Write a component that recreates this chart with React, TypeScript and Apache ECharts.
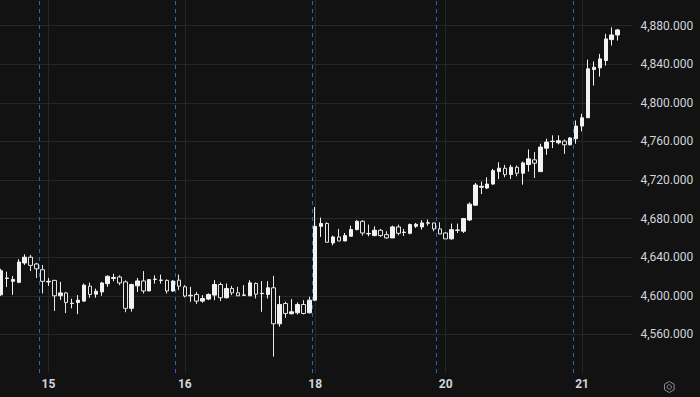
import React, { useEffect, useRef } from "react";
import * as echarts from "echarts";

const opens = [
  4601, 4618, 4615, 4614, 4634, 4640, 4633, 4627, 4614.4, 4616,
  4600, 4603, 4592, 4593, 4594.5, 4610, 4601.7, 4604, 4612.6, 4618,
  4619.5, 4614.4, 4587, 4610.3, 4615.4, 4605, 4617, 4616, 4616, 4605,
  4616.2, 4609.3, 4600, 4601.4, 4594.5, 4596.6, 4600.7, 4611.7, 4598, 4607.6,
  4603.1, 4600.5, 4600, 4612.8, 4602.2, 4601.4, 4608.3, 4571, 4592, 4581.4,
  4582.4, 4591, 4582.4, 4595.5, 4672, 4675, 4654.8, 4661, 4656.8, 4661.7,
  4668.6, 4677.2, 4664.2, 4662.4, 4667.9, 4663.4, 4660, 4671.4, 4665.6, 4664.8,
  4672.1, 4671.4, 4675.3, 4675.5, 4669.3, 4665.1, 4659, 4667.8, 4666.9, 4678.6,
  4693.9, 4712.5, 4711.7, 4715.8, 4728.7, 4732.2, 4725.6, 4733.2, 4727, 4736,
  4740.9, 4728.7, 4753, 4759.8, 4758.6, 4760.3, 4756.5, 4762.8, 4775.9, 4784.5,
  4834.5, 4836.2, 4843.8, 4865.5, 4870.3,
];
const closes = [
  4626, 4618.5, 4617, 4635, 4640, 4631.5, 4628, 4615, 4615, 4600,
  4603, 4593, 4592.3, 4595.5, 4611, 4601.4, 4604.8, 4613.3, 4620.2, 4619,
  4613.3, 4587, 4611.6, 4615.4, 4605, 4616.8, 4617.3, 4616.3, 4605, 4615.3,
  4610, 4599.7, 4600.5, 4594.5, 4597.2, 4601.4, 4611.7, 4598, 4607.6, 4603.1,
  4600, 4600.9, 4613.4, 4601.7, 4602.6, 4608.3, 4571, 4591, 4581.7, 4583.4,
  4591, 4581.7, 4595.5, 4672, 4675, 4655.5, 4661, 4656.8, 4662.4, 4668.6,
  4677.2, 4665.1, 4664.6, 4667.9, 4662.4, 4660, 4671.4, 4664.8, 4666, 4673.8,
  4674.1, 4675.5, 4675.7, 4669.3, 4664.1, 4659, 4668.6, 4668.2, 4680, 4695,
  4714.8, 4713.5, 4715.8, 4729.7, 4732.2, 4725.6, 4733.2, 4727, 4737.7, 4741.9,
  4737.4, 4754.1, 4759.3, 4760.2, 4760.7, 4756.5, 4763.5, 4775.9, 4784.5, 4835.2,
  4836.9, 4845.5, 4866.2, 4870.3, 4875.5,
];
const lows = [
  4600, 4609, 4601, 4613, 4632, 4625.6, 4618.5, 4602.4, 4610.3, 4584.3,
  4595.6, 4582, 4587, 4581, 4593.6, 4598, 4598, 4600, 4609.2, 4615,
  4611, 4583, 4583.6, 4604, 4602.4, 4605, 4612.6, 4612.6, 4602.4, 4604,
  4605.9, 4598.3, 4593.8, 4591.4, 4592.8, 4595.5, 4595.5, 4594.5, 4597.2, 4600.7,
  4600, 4600, 4600, 4597.2, 4583.4, 4597.2, 4536.9, 4568, 4577.2, 4580.7,
  4580.7, 4580.7, 4581.7, 4594.5, 4661, 4655.5, 4652.3, 4656.8, 4656.8, 4661.7,
  4667.9, 4662.4, 4661.7, 4661.7, 4661, 4659, 4660, 4662.7, 4662, 4663.7,
  4670.3, 4668.6, 4672.7, 4666.9, 4664.1, 4659, 4658.2, 4665.1, 4665.1, 4677.6,
  4693.2, 4705.4, 4710.6, 4715.1, 4721, 4722.8, 4721, 4723.8, 4715.1, 4728.7,
  4722.1, 4728.7, 4746.1, 4753, 4756.9, 4747.1, 4755.8, 4757.6, 4770.3, 4784.5,
  4817.9, 4827.2, 4838.6, 4859.3, 4864.5,
];
const highs = [
  4628, 4625, 4620.5, 4638, 4643, 4642.4, 4634.2, 4632, 4618.5, 4616.5,
  4614.4, 4604, 4597, 4600.7, 4612.6, 4613.7, 4607.5, 4614.4, 4621.2, 4622.9,
  4621.2, 4616, 4612.6, 4618.5, 4625.6, 4617, 4621.2, 4621.9, 4617, 4616,
  4622, 4611, 4609.3, 4604, 4600.7, 4602.4, 4616.2, 4613.8, 4612.8, 4610.3,
  4609.3, 4611, 4616.2, 4613.8, 4615.2, 4615.2, 4620.7, 4600, 4593.8, 4596.6,
  4593.1, 4595.5, 4599, 4692, 4681, 4676, 4662.4, 4669.3, 4665.1, 4672.7,
  4678.3, 4678.3, 4673.8, 4672, 4669.3, 4666.9, 4672.7, 4673.8, 4669.3, 4674.9,
  4675.5, 4678.3, 4679, 4675.5, 4676.2, 4665.8, 4674.8, 4674.8, 4680.7, 4696.7,
  4716.9, 4718.3, 4722.8, 4731.5, 4738.4, 4735.7, 4735.7, 4735, 4739.1, 4751.7,
  4748.9, 4757.6, 4762.8, 4766.3, 4766.3, 4762, 4764.5, 4781.7, 4788.6, 4844.8,
  4842.8, 4850.7, 4871.4, 4878.3, 4876.6,
];

const dayLabels = ["15", "16", "18", "20", "21"];
const dayLabelIndex = [8, 31, 53, 75, 98];
const sessionBreaks = [6.464, 29.43, 52.54, 73.44, 96.55];
const emptySlots = 2;

const Y_MIN = 4520;
const Y_MAX = 4920;
const Y_STEP = 40;

export default function App() {
  const ref = useRef<HTMLDivElement>(null);

  useEffect(() => {
    if (!ref.current) return;
    const chart = echarts.init(ref.current, null, { renderer: "svg" });
    const total = opens.length + emptySlots;
    const categories = Array.from({ length: total }, (_, i) => "k" + i);
    const candleData = opens.map((o, i) => [o, closes[i], lows[i], highs[i]]);
    const labelMap: Record<number, string> = {};
    dayLabelIndex.forEach((idx, j) => (labelMap[idx] = dayLabels[j]));

    const gridColor = "#272727";
    const bg = "#121212";

    chart.setOption({
      animation: false,
      backgroundColor: bg,
      grid: {
        left: -2,
        right: 67.5,
        top: -13,
        bottom: 24,
        containLabel: false,
        outerBoundsMode: "none",
      },
      xAxis: [
        {
          type: "category",
          data: categories,
          boundaryGap: true,
          axisLine: { show: false },
          axisTick: { show: false },
          splitLine: { show: false },
          axisLabel: {
            interval: (index: number) => labelMap[index] !== undefined,
            formatter: (_v: string, index: number) => labelMap[index] ?? "",
            color: "#d1d4dc",
            fontSize: 12,
            fontWeight: "bold",
            fontFamily: "Roboto",
            margin: 5,
          },
        },
        {
          type: "value",
          min: -0.5,
          max: total - 0.5,
          show: false,
        },
      ],
      yAxis: {
        type: "value",
        position: "right",
        min: Y_MIN,
        max: Y_MAX,
        interval: Y_STEP,
        scale: true,
        axisLine: { show: false },
        axisTick: { show: false },
        axisLabel: {
          color: "#d1d4dc",
          fontSize: 12,
          fontFamily: "Roboto",
          margin: 8,
          showMinLabel: false,
          showMaxLabel: false,
          formatter: (v: number) =>
            v.toLocaleString("en-US", {
              minimumFractionDigits: 3,
              maximumFractionDigits: 3,
            }),
        },
        splitLine: {
          show: true,
          showMinLine: false,
          showMaxLine: false,
          lineStyle: { color: gridColor, width: 1 },
        },
      },
      series: [
        {
          type: "line",
          xAxisIndex: 1,
          yAxisIndex: 0,
          data: [],
          z: 0,
          silent: true,
          markLine: {
            silent: true,
            symbol: ["none", "none"],
            label: { show: false },
            z: 0,
            data: [
              ...dayLabelIndex.map((x) => ({
                xAxis: x,
                lineStyle: { color: gridColor, type: "solid", width: 1 },
              })),
              ...sessionBreaks.map((x) => ({
                xAxis: x,
                lineStyle: { color: "#2e62c4", type: [4, 4], width: 1 },
              })),
            ],
          },
        },
        {
          type: "candlestick",
          xAxisIndex: 0,
          yAxisIndex: 0,
          z: 5,
          barWidth: 4,
          data: candleData,
          itemStyle: {
            color: "#f2f2f2",
            color0: bg,
            borderColor: "#f2f2f2",
            borderColor0: "#e6e6e6",
            borderWidth: 1,
          },
        },
      ],
      graphic: [
        {
          type: "group",
          left: 662,
          top: 379,
          children: [
            {
              type: "polygon",
              shape: {
                points: [
                  [6, 0.5],
                  [10.8, 3.25],
                  [10.8, 8.75],
                  [6, 11.5],
                  [1.2, 8.75],
                  [1.2, 3.25],
                ],
              },
              style: { fill: "none", stroke: "#8a8d96", lineWidth: 1 },
            },
            {
              type: "circle",
              shape: { cx: 6, cy: 6, r: 2.2 },
              style: { fill: "none", stroke: "#8a8d96", lineWidth: 1 },
            },
          ],
        },
      ],
    });

    return () => chart.dispose();
  }, []);

  return (
    <div
      ref={ref}
      style={{
        position: "fixed",
        left: 0,
        top: 0,
        width: 700,
        height: 397,
        background: "#121212",
      }}
    />
  );
}
